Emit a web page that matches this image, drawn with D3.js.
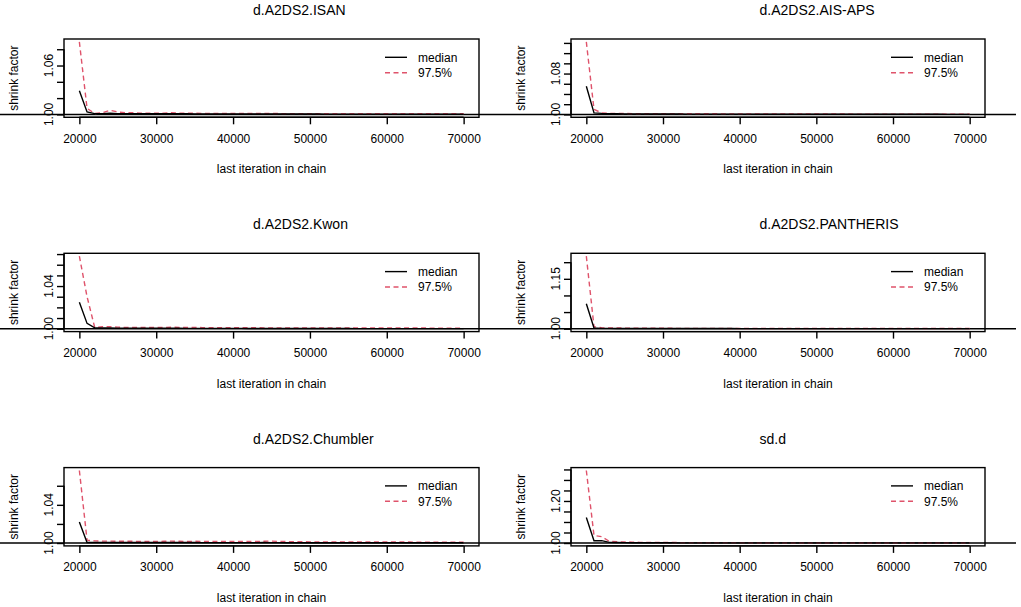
<!DOCTYPE html>
<html>
<head>
<meta charset="utf-8">
<script src="https://cdn.jsdelivr.net/npm/d3@7"></script>
<style>
  body { margin: 0; background: #fff; }
  text { font-family: 'Liberation Sans', Arial, sans-serif; fill: #000; }
</style>
</head>
<body>
<div id="chart"></div>
<script>
const iterations = [
  20000, 21000, 22000, 23000, 24000, 25000, 26000, 27000, 28000, 29000,
  30000, 31000, 32000, 33000, 34000, 35000, 36000, 37000, 38000, 39000,
  40000, 41000, 42000, 43000, 44000, 45000, 46000, 47000, 48000, 49000,
  50000, 51000, 52000, 53000, 54000, 55000, 56000, 57000, 58000, 59000,
  60000, 61000, 62000, 63000, 64000, 65000, 66000, 67000, 68000, 69000,
  70000
];
const xTicks = [20000, 30000, 40000, 50000, 60000, 70000];
const titles = ['d.A2DS2.ISAN', 'd.A2DS2.AIS-APS', 'd.A2DS2.Kwon', 'd.A2DS2.PANTHERIS', 'd.A2DS2.Chumbler', 'sd.d'];
const legendLabels = ['median', '97.5%'];

// median shrink factor per panel
const medianISAN = [
  1.029, 1.003, 1.001, 1.001, 1.0015, 1.001, 1.001, 1.0008, 1.0008, 1.0008,
  1.0008, 1.0008, 1.001, 1.0008, 1.0008, 1.0006, 1.0006, 1.0006, 1.0005, 1.0005,
  1.0005, 1.0005, 1.0005, 1.0005, 1.0005, 1.0005, 1.0004, 1.0004, 1.0004, 1.0004,
  1.0004, 1.0004, 1.0003, 1.0003, 1.0003, 1.0003, 1.0003, 1.0003, 1.0003, 1.0003,
  1.0003, 1.0003, 1.0002, 1.0002, 1.0002, 1.0002, 1.0002, 1.0002, 1.0002, 1.0002,
  1.0002
];
const medianAIS = [
  1.055, 1.003, 1.002, 1.0015, 1.0012, 1.001, 1.001, 1.001, 1.0008, 1.0008,
  1.0008, 1.0008, 1.0008, 1.0006, 1.0006, 1.0006, 1.0006, 1.0005, 1.0005, 1.0005,
  1.0005, 1.0005, 1.0004, 1.0004, 1.0004, 1.0004, 1.0004, 1.0004, 1.0003, 1.0003,
  1.0003, 1.0003, 1.0003, 1.0003, 1.0003, 1.0003, 1.0002, 1.0002, 1.0002, 1.0002,
  1.0002, 1.0002, 1.0002, 1.0002, 1.0002, 1.0002, 1.0002, 1.0001, 1.0001, 1.0001,
  1.0001
];
const medianKwon = [
  1.0248, 1.005, 1.0008, 1.0006, 1.0006, 1.0005, 1.0005, 1.0004, 1.0004, 1.0004,
  1.0004, 1.0004, 1.0004, 1.0004, 1.0003, 1.0003, 1.0003, 1.0003, 1.0003, 1.0003,
  1.0003, 1.0003, 1.0002, 1.0002, 1.0002, 1.0002, 1.0002, 1.0002, 1.0002, 1.0002,
  1.0002, 1.0002, 1.0002, 1.0002, 1.0002, 1.0002, 1.0001, 1.0001, 1.0001, 1.0001,
  1.0001, 1.0001, 1.0001, 1.0001, 1.0001, 1.0001, 1.0001, 1.0001, 1.0001, 1.0001,
  1.0001
];
const medianPANTHERIS = [
  1.075, 1.002, 1.001, 1.001, 1.0008, 1.0008, 1.0006, 1.0006, 1.0006, 1.0005,
  1.0005, 1.0005, 1.0005, 1.0005, 1.0004, 1.0004, 1.0004, 1.0004, 1.0004, 1.0004,
  1.0003, 1.0003, 1.0003, 1.0003, 1.0003, 1.0003, 1.0003, 1.0003, 1.0003, 1.0003,
  1.0002, 1.0002, 1.0002, 1.0002, 1.0002, 1.0002, 1.0002, 1.0002, 1.0002, 1.0002,
  1.0002, 1.0002, 1.0002, 1.0002, 1.0001, 1.0001, 1.0001, 1.0001, 1.0001, 1.0001,
  1.0001
];
const medianChumbler = [
  1.022, 1.0006, 1.0006, 1.0006, 1.0005, 1.0005, 1.0005, 1.0005, 1.0005, 1.0005,
  1.0005, 1.0005, 1.0006, 1.0005, 1.0005, 1.0005, 1.0004, 1.0004, 1.0004, 1.0004,
  1.0004, 1.0004, 1.0004, 1.0004, 1.0005, 1.0004, 1.0004, 1.0003, 1.0003, 1.0003,
  1.0003, 1.0003, 1.0003, 1.0003, 1.0003, 1.0003, 1.0002, 1.0002, 1.0002, 1.0002,
  1.0002, 1.0002, 1.0002, 1.0002, 1.0002, 1.0002, 1.0002, 1.0002, 1.0002, 1.0002,
  1.0002
];
const medianSdD = [
  1.121, 1.011, 1.011, 1.003, 1.0025, 1.002, 1.0015, 1.0012, 1.001, 1.001,
  1.001, 1.001, 1.0008, 1.0008, 1.0008, 1.0008, 1.0008, 1.0006, 1.0006, 1.0006,
  1.0006, 1.0006, 1.0006, 1.0006, 1.0006, 1.0006, 1.0005, 1.0005, 1.0005, 1.0005,
  1.0005, 1.0005, 1.0005, 1.0005, 1.0005, 1.0005, 1.0005, 1.0005, 1.0004, 1.0004,
  1.0004, 1.0004, 1.0004, 1.0004, 1.0004, 1.0004, 1.0004, 1.0004, 1.0004, 1.0004,
  1.0004
];

// 97.5% shrink factor per panel
const upperISAN = [
  1.089, 1.0075, 1.001, 1.002, 1.005, 1.003, 1.002, 1.002, 1.0015, 1.0015,
  1.0015, 1.0015, 1.002, 1.0015, 1.0015, 1.0015, 1.0012, 1.0012, 1.0012, 1.0012,
  1.0012, 1.0012, 1.0012, 1.0012, 1.0012, 1.0012, 1.001, 1.001, 1.001, 1.001,
  1.001, 1.001, 1.001, 1.001, 1.001, 1.001, 1.001, 1.001, 1.001, 1.001,
  1.001, 1.001, 1.001, 1.0008, 1.0008, 1.0008, 1.0008, 1.0008, 1.0008, 1.0008,
  1.0008
];
const upperAIS = [
  1.142, 1.0097, 1.003, 1.002, 1.002, 1.0018, 1.0015, 1.0015, 1.0015, 1.0015,
  1.0015, 1.0015, 1.0015, 1.0012, 1.0012, 1.0012, 1.0012, 1.0012, 1.001, 1.001,
  1.001, 1.001, 1.001, 1.001, 1.001, 1.001, 1.0008, 1.0008, 1.0008, 1.0008,
  1.0008, 1.0008, 1.0008, 1.0008, 1.0008, 1.0006, 1.0006, 1.0006, 1.0006, 1.0006,
  1.0006, 1.0006, 1.0006, 1.0006, 1.0006, 1.0005, 1.0005, 1.0005, 1.0005, 1.0005,
  1.0005
];
const upperKwon = [
  1.068, 1.030, 1.001, 1.0018, 1.0018, 1.0015, 1.0012, 1.0012, 1.0012, 1.0012,
  1.0012, 1.0012, 1.0014, 1.0012, 1.0012, 1.0012, 1.001, 1.001, 1.001, 1.001,
  1.001, 1.001, 1.001, 1.001, 1.0008, 1.0008, 1.0008, 1.0008, 1.0008, 1.0008,
  1.0008, 1.0008, 1.0008, 1.0008, 1.0008, 1.0008, 1.0008, 1.0006, 1.0006, 1.0006,
  1.0006, 1.0006, 1.0006, 1.0006, 1.0006, 1.0006, 1.0005, 1.0005, 1.0005, 1.0005,
  1.0005
];
const upperPANTHERIS = [
  1.218, 1.006, 1.003, 1.002, 1.002, 1.0018, 1.0015, 1.0015, 1.0012, 1.0012,
  1.0012, 1.0012, 1.001, 1.001, 1.001, 1.001, 1.001, 1.001, 1.0008, 1.0008,
  1.0008, 1.0008, 1.0008, 1.0008, 1.0008, 1.0008, 1.0006, 1.0006, 1.0006, 1.0006,
  1.0006, 1.0006, 1.0006, 1.0006, 1.0006, 1.0006, 1.0005, 1.0005, 1.0005, 1.0005,
  1.0005, 1.0005, 1.0005, 1.0005, 1.0005, 1.0005, 1.0004, 1.0004, 1.0004, 1.0004,
  1.0004
];
const upperChumbler = [
  1.076, 1.003, 1.0022, 1.002, 1.002, 1.0018, 1.0018, 1.0018, 1.0016, 1.0016,
  1.0016, 1.0018, 1.002, 1.0018, 1.0016, 1.0018, 1.0016, 1.0015, 1.0015, 1.0015,
  1.0015, 1.0015, 1.0015, 1.0015, 1.0018, 1.002, 1.0016, 1.0015, 1.0014, 1.0014,
  1.0012, 1.0012, 1.0012, 1.0012, 1.0012, 1.001, 1.001, 1.001, 1.001, 1.001,
  1.001, 1.001, 1.001, 1.001, 1.0008, 1.0008, 1.0008, 1.0008, 1.0008, 1.0008,
  1.0008
];
const upperSdD = [
  1.345, 1.036, 1.030, 1.008, 1.006, 1.005, 1.004, 1.003, 1.003, 1.0025,
  1.0025, 1.0022, 1.002, 1.002, 1.002, 1.002, 1.0018, 1.0018, 1.0018, 1.0016,
  1.0016, 1.0016, 1.0015, 1.0015, 1.0015, 1.0015, 1.0015, 1.0014, 1.0014, 1.0014,
  1.0014, 1.0014, 1.0012, 1.0012, 1.0014, 1.0014, 1.0012, 1.0012, 1.0012, 1.0012,
  1.0012, 1.0012, 1.001, 1.001, 1.001, 1.001, 1.001, 1.001, 1.001, 1.001,
  1.001
];

const medians = [medianISAN, medianAIS, medianKwon, medianPANTHERIS, medianChumbler, medianSdD];
const uppers = [upperISAN, upperAIS, upperKwon, upperPANTHERIS, upperChumbler, upperSdD];

const yTicks = [
  [1.00, 1.02, 1.04, 1.06, 1.08],
  [1.00, 1.02, 1.04, 1.06, 1.08, 1.10, 1.12, 1.14],
  [1.00, 1.01, 1.02, 1.03, 1.04, 1.05, 1.06, 1.07],
  [1.00, 1.05, 1.10, 1.15, 1.20],
  [1.00, 1.02, 1.04, 1.06],
  [1.00, 1.05, 1.10, 1.15, 1.20, 1.25, 1.30, 1.35]
];
const yTickLabels = [
  [1.00, 1.06],
  [1.00, 1.08],
  [1.00, 1.04],
  [1.00, 1.15],
  [1.00, 1.04],
  [1.00, 1.20]
];

const W = 1021, H = 607;
const colX = [64, 571];
const colW = [415, 414];
const rowTop = 39, rowStep = 214.3, boxH = 78.3;
const lineX = [[0, 510], [510, 1016]];
const redCol = '#DF536B';

const svg = d3.select('#chart')
  .append('svg')
  .attr('width', W)
  .attr('height', H);

// R style: extend the data range by 4% on each side
function pad(ext) {
  const r = ext[1] - ext[0];
  return [ext[0] - 0.04 * r, ext[1] + 0.04 * r];
}

function panel(i) {
  const col = i % 2, row = Math.floor(i / 2);
  const x0 = colX[col], w = colW[col];
  const y0 = rowTop + row * rowStep;

  const xScale = d3.scaleLinear()
    .domain(pad(d3.extent(iterations)))
    .range([x0, x0 + w]);

  const yExt = d3.extent(medians[i].concat(uppers[i], [1.0]));
  const yScale = d3.scaleLinear()
    .domain(pad(yExt))
    .range([y0 + boxH, y0]);

  const g = svg.append('g');

  // reference line at 1, drawn across the whole figure region
  g.append('line')
    .attr('x1', lineX[col][0])
    .attr('x2', lineX[col][1])
    .attr('y1', yScale(1))
    .attr('y2', yScale(1))
    .attr('stroke', '#000')
    .attr('stroke-width', 1.5);

  const line = d3.line()
    .x((d, j) => xScale(iterations[j]))
    .y(d => yScale(d));

  g.append('path')
    .datum(uppers[i])
    .attr('d', line)
    .attr('fill', 'none')
    .attr('stroke', redCol)
    .attr('stroke-width', 1.4)
    .attr('stroke-dasharray', '5,3.5');

  g.append('path')
    .datum(medians[i])
    .attr('d', line)
    .attr('fill', 'none')
    .attr('stroke', '#000')
    .attr('stroke-width', 1.4);

  // box
  g.append('rect')
    .attr('x', x0)
    .attr('y', y0)
    .attr('width', w)
    .attr('height', boxH)
    .attr('fill', 'none')
    .attr('stroke', '#000')
    .attr('stroke-width', 1.4);

  // x axis
  const xAxis = d3.axisBottom(xScale)
    .tickValues(xTicks)
    .tickSize(7)
    .tickSizeOuter(0)
    .tickPadding(5)
    .tickFormat(d3.format('d'));
  const gx = g.append('g')
    .attr('transform', `translate(0,${y0 + boxH})`)
    .call(xAxis);
  gx.select('.domain')
    .attr('d', `M${xScale(xTicks[0])},0H${xScale(xTicks[xTicks.length - 1])}`)
    .attr('stroke-width', 1.4);
  gx.selectAll('.tick line').attr('stroke-width', 1.4);
  gx.selectAll('.tick text')
    .attr('y', 25.5)
    .attr('dy', null)
    .style('font-size', '12px');

  // y axis: ticks, with only the labels R keeps
  const yAxis = d3.axisLeft(yScale)
    .tickValues(yTicks[i])
    .tickSize(7)
    .tickSizeOuter(0)
    .tickFormat('');
  const gy = g.append('g')
    .attr('transform', `translate(${x0},0)`)
    .call(yAxis);
  gy.select('.domain')
    .attr('d', `M0,${yScale(yTicks[i][0])}V${yScale(yTicks[i][yTicks[i].length - 1])}`)
    .attr('stroke-width', 1.4);
  gy.selectAll('.tick line').attr('stroke-width', 1.4);

  g.selectAll('.ylab')
    .data(yTickLabels[i])
    .join('text')
    .attr('class', 'ylab')
    .attr('transform', d => `translate(${x0 - 11.3},${yScale(d)}) rotate(-90)`)
    .attr('text-anchor', 'middle')
    .style('font-size', '12px')
    .text(d => d3.format('.2f')(d));

  // titles
  g.append('text')
    .attr('x', x0 + w / 2 - 18.5)
    .attr('y', y0 - 24)
    .style('font-size', '14px')
    .text(titles[i]);

  g.append('text')
    .attr('x', x0 + w / 2)
    .attr('y', y0 + boxH + 56)
    .attr('text-anchor', 'middle')
    .style('font-size', '12px')
    .text('last iteration in chain');

  g.append('text')
    .attr('transform', `translate(${x0 - 46},${y0 + boxH / 2}) rotate(-90)`)
    .attr('text-anchor', 'middle')
    .style('font-size', '12px')
    .text('shrink factor');

  // legend
  const leg = g.selectAll('.leg')
    .data(legendLabels)
    .join('g')
    .attr('class', 'leg')
    .attr('transform', (d, k) => `translate(${x0 + w - 94},${y0 + 18.3 + k * 15.4})`);

  leg.append('line')
    .attr('x1', 0)
    .attr('x2', 22)
    .attr('stroke', (d, k) => k === 0 ? '#000' : redCol)
    .attr('stroke-width', 1.4)
    .attr('stroke-dasharray', (d, k) => k === 0 ? null : '5,3.5');

  leg.append('text')
    .attr('x', 33)
    .attr('y', 4.2)
    .style('font-size', '12px')
    .text(d => d);
}

titles.forEach((t, i) => panel(i));
</script>
</body>
</html>
